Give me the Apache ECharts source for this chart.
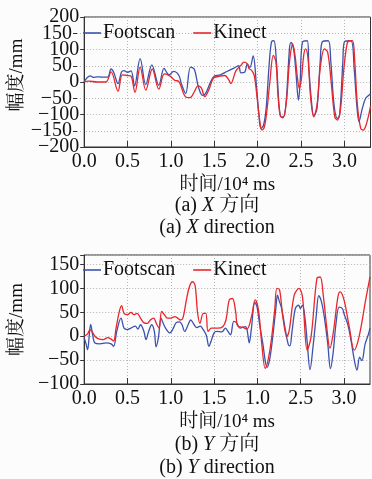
<!DOCTYPE html>
<html><head><meta charset="utf-8">
<script src="https://cdn.jsdelivr.net/npm/echarts@6/dist/echarts.min.js"></script>
<style>html,body{margin:0;padding:0;background:#fcfcfc}#c{width:372px;height:479px}</style>
</head><body><div id="c"></div>
<script>
// ---- data ----
const seriesNames = ['Footscan', 'Kinect'];
const xTicks = [0, 0.5, 1, 1.5, 2, 2.5, 3];
const xTickLabelsA = ['0.0', '0.5', '1.0', '1.5', '2.0', '2.5', '3.0'];
const xTickLabelsB = ['0.0', '0.5', '1.0', '1.5', '1.0', '2.5', '3.0'];
const yTicksA = [-200, -150, -100, -50, 0, 50, 100, 150, 200];
const yTicksB = [-100, -50, 0, 50, 100, 150];

// (a) X direction
const footXT = [0, .03, .07, .105, .15, .2, .27, .31, .34, .39, .43, .46, .5, .54, .58, .645, .71, .78, .86, .92, .955, .98, 1.03, 1.07, 1.1, 1.12, 1.17, 1.225, 1.27, 1.316, 1.365, 1.40, 1.46, 1.50, 1.57, 1.65, 1.72, 1.78, 1.806, 1.85, 1.88, 1.91, 1.948, 1.985, 2.011, 2.037, 2.067, 2.097, 2.134, 2.16, 2.187, 2.216, 2.246, 2.272, 2.299, 2.328, 2.366, 2.384, 2.414, 2.44, 2.47, 2.489, 2.515, 2.571, 2.59, 2.62, 2.646, 2.683, 2.72, 2.746, 2.813, 2.843, 2.88, 2.918, 2.944, 2.981, 3.0, 3.075, 3.112, 3.142, 3.168, 3.205, 3.243, 3.28, 3.3];
const footXV = [0, 12, 19, 14, 16, 15, 15, 40, 30, -5, 31, 35, 30, 34, -12, 72, -8, 53, -10, 42, 28, 22, 33, 28, 15, -5, -36, 46, 39, -15, -41, -35, 2, 18, 22, 33, 42, 50, 28, 30, 55, 45, 80, -10, -92, -143, -133, -82, 61, 124, 127, 61, -71, -107, -107, -61, 102, 122, 100, 31, -56, 0, 122, 127, 41, -61, -104, -82, 61, 124, 127, 61, -71, -112, -102, 61, 124, 127, 41, -71, -122, -82, -51, -41, -36];
const kinXT = [0, .05, .15, .25, .31, .39, .44, .5, .54, .585, .645, .71, .785, .86, .925, .99, 1.045, 1.09, 1.17, 1.22, 1.27, 1.31, 1.35, 1.39, 1.44, 1.49, 1.55, 1.62, 1.67, 1.69, 1.75, 1.806, 1.84, 1.88, 1.9, 1.93, 1.96, 1.99, 2.02, 2.048, 2.075, 2.104, 2.14, 2.18, 2.21, 2.234, 2.26, 2.29, 2.33, 2.366, 2.403, 2.43, 2.455, 2.48, 2.504, 2.53, 2.552, 2.58, 2.608, 2.646, 2.683, 2.72, 2.769, 2.806, 2.843, 2.888, 2.918, 2.955, 2.993, 3.03, 3.056, 3.093, 3.119, 3.149, 3.187, 3.216, 3.254, 3.3];
const kinXV = [0, 3, 0, 0, 31, -28, 22, 20, 18, -32, 46, -25, 40, -22, 25, 18, 5, 2, -46, -48, -30, -12, -18, -45, -22, 12, 17, 20, 5, -5, 35, 51, 61, 56, 41, 36, 20, -41, -112, -148, -140, -92, 0, 82, 62, -41, -104, -110, -61, 61, 117, 82, 20, -20, 10, 82, 102, 72, -41, -107, -72, 41, 102, 92, 10, -107, -117, -82, 41, 117, 127, 127, 61, -71, -143, -148, -128, -75];

// (b) Y direction
const footYT = [0, .02, .04, .06, .075, .1, .124, .18, .256, .31, .34, .376, .425, .46, .5, .54, .59, .62, .65, .69, .714, .744, .78, .81, .83, .857, .887, .91, .95, .99, 1.03, 1.06, 1.1, 1.13, 1.16, 1.2, 1.23, 1.27, 1.3, 1.34, 1.37, 1.41, 1.44, 1.466, 1.5, 1.53, 1.59, 1.63, 1.66, 1.69, 1.727, 1.76, 1.8, 1.86, 1.88, 1.906, 1.93, 1.97, 1.995, 2.026, 2.064, 2.09, 2.11, 2.14, 2.176, 2.213, 2.232, 2.25, 2.28, 2.326, 2.356, 2.375, 2.4, 2.438, 2.476, 2.495, 2.52, 2.55, 2.577, 2.607, 2.645, 2.68, 2.708, 2.74, 2.775, 2.813, 2.843, 2.873, 2.906, 2.944, 2.98, 3.006, 3.045, 3.082, 3.12, 3.15, 3.18, 3.206, 3.243, 3.28, 3.3];
const footYV = [-3, -15, -28, 5, 25, 0, -14, -16, -14, -16, -21, 10, 38, 17, 14, 17, 21, 15, 24, 10, -7, 10, 24, 10, -22, -3, 38, 28, 14, 7, 17, 28, 30, 24, 10, 24, 34, 24, 18, 21, 15, 2, -21, -10, 7, 10, 9, 17, 10, 3, 31, 28, 17, 20, 14, -14, 15, 71, 62, 24, -17, -51, -65, -50, -3, 58, 86, 75, 58, 10, -17, -20, 10, 58, 65, 58, 65, 37, -17, -70, -17, 44, 85, 72, 37, -17, -68, -37, 24, 61, 58, 44, 24, -10, -51, -71, -44, -51, -17, 3, 17];
const kinYT = [0, .04, .068, .09, .124, .16, .218, .274, .31, .34, .368, .406, .432, .46, .5, .54, .575, .61, .65, .69, .73, .763, .8, .84, .865, .895, .93, .96, 1.0, 1.045, 1.08, 1.11, 1.14, 1.18, 1.214, 1.25, 1.28, 1.31, 1.337, 1.375, 1.405, 1.43, 1.468, 1.543, 1.6, 1.637, 1.675, 1.712, 1.75, 1.77, 1.825, 1.88, 1.93, 1.975, 2.012, 2.05, 2.09, 2.144, 2.2, 2.225, 2.256, 2.293, 2.34, 2.368, 2.425, 2.48, 2.52, 2.575, 2.62, 2.687, 2.725, 2.762, 2.8, 2.837, 2.875, 2.93, 2.956, 3.0, 3.06, 3.118, 3.174, 3.25, 3.3];
const kinYV = [0, 5, 14, 10, 0, -5, -7, -3, -6, -10, 17, 52, 64, 48, 45, 50, 45, 48, 38, 28, 27, 34, 38, 24, 17, 52, 44, 38, 38, 41, 38, 34, 38, 76, 103, 114, 107, 48, 27, 48, 48, 10, 17, 17, 20, 34, 76, 79, 50, 22, 19, 15, 40, 76, 55, -15, -67, -29, 55, 100, 97, 41, -1, 13, 86, 100, 83, -29, -1, 121, 124, 83, 20, -25, 6, 83, 93, 76, 20, -29, -1, 76, 124];

// ---- chart ----
const SERIF = "'Liberation Serif','Noto Serif CJK SC','Noto Sans CJK SC',serif";
const BLUE = '#3c52ad', RED = '#e8262b', AX = '#333';
const pairs = (t, v) => t.map((x, i) => [x, v[i]]);
const minus = v => String(v).replace('-', '\u2212');

// top plot: 17..147 px  (-200..200); helper grid carries the odd 50s (-150..150)
const TOP_Y = 17, TOP_H = 130, STEP = TOP_H / 8;

function xAxisCfg(gi, labels) {
  return {
    type: 'value', gridIndex: gi, min: 0, max: 3.3, interval: 0.5,
    axisLine: { show: true, onZero: false, lineStyle: { color: AX, width: 1 } },
    axisTick: { show: true, inside: true, length: 6, customValues: xTicks, lineStyle: { color: AX } },
    axisLabel: {
      customValues: xTicks, margin: 5, fontSize: 20, color: '#111', fontFamily: SERIF,
      showMinLabel: true, showMaxLabel: true,
      formatter: v => { const i = Math.round(v / 0.5); return Math.abs(v - i * 0.5) < 1e-6 && i < labels.length ? labels[i] : ''; }
    },
    splitLine: { show: true, lineStyle: { type: [1, 2], color: '#b5b5b5', width: 1 } },
    name: '时间/10⁴ ms', nameLocation: 'middle', nameGap: 29,
    nameTextStyle: { fontSize: 19, color: '#111', fontFamily: SERIF }
  };
}
function yAxisCfg(gi, ticks, min, max, interval, pad, withName, withLine) {
  const ax = {
    type: 'value', gridIndex: gi, min: min, max: max, interval: interval,
    axisLine: { show: withLine, onZero: false, lineStyle: { color: AX, width: 1 } },
    axisTick: { show: true, inside: false, length: 4, lineStyle: { color: AX } },
    axisLabel: {
      margin: 5, fontSize: 20, color: '#111', fontFamily: SERIF,
      showMinLabel: true, showMaxLabel: true,
      formatter: v => ticks.indexOf(v) >= 0 ? minus(v) : ''
    },
    splitLine: { show: true, lineStyle: { type: [1, 2], color: '#b5b5b5', width: 1 } }
  };
  if (withName) {
    ax.name = '幅度/mm'; ax.nameLocation = 'middle'; ax.nameGap = 52;
    ax.nameTextStyle = { fontSize: 19, color: '#111', fontFamily: SERIF, padding: pad };
  }
  return ax;
}
function legendCfg(top) {
  return {
    data: seriesNames.map(n => ({ name: n, icon: 'rect' })), left: 83, top: top, padding: 0,
    itemWidth: 18, itemHeight: 1.6, itemGap: 18,
    textStyle: { fontSize: 20, color: '#111', fontFamily: SERIF, padding: [0, 0, 0, -3] },
    selectedMode: false
  };
}
function lineSeries(name, color, xi, data) {
  return {
    type: 'line', name: name, xAxisIndex: xi, yAxisIndex: xi, data: data,
    symbol: 'none', smooth: 0.35, lineStyle: { color: color, width: 1.3 }, itemStyle: { color: color },
    animation: false
  };
}
function caption(y, pre, letter, post) {
  return {
    type: 'text', x: 217, y: y,
    style: {
      text: '{n|' + pre + '}{i|' + letter + '}{n|' + post + '}',
      align: 'center', verticalAlign: 'middle', fontSize: 20, fontFamily: SERIF, fill: '#111',
      rich: {
        n: { fontSize: 20, fontFamily: SERIF, fill: '#111', color: '#111' },
        i: { fontSize: 20, fontFamily: SERIF, fontStyle: 'italic', fill: '#111', color: '#111' }
      }
    }
  };
}

const chart = echarts.init(document.getElementById('c'), null, { renderer: 'canvas' });
chart.setOption({
  backgroundColor: '#fcfcfc',
  animation: false,
  grid: [
    { left: 77, right: 1.5, top: TOP_Y, height: TOP_H, show: true, borderColor: AX, borderWidth: 1, backgroundColor: 'transparent' },
    { left: 77, right: 2, top: 255, height: 129, show: true, borderColor: AX, borderWidth: 1, backgroundColor: 'transparent' },
    { left: 77, right: 1.5, top: TOP_Y + STEP, height: TOP_H - 2 * STEP, show: false }
  ],
  xAxis: [xAxisCfg(0, xTickLabelsA), xAxisCfg(1, xTickLabelsB),
    { type: 'value', gridIndex: 2, min: 0, max: 3.3, show: false }],
  yAxis: [
    yAxisCfg(0, yTicksA, -200, 200, 100, [0, 0, 0, 14], true, true),
    yAxisCfg(1, yTicksB, -100, 170, 50, [0, 0, 0, 0], true, true),
    yAxisCfg(2, yTicksA, -150, 150, 100, null, false, false)
  ],
  legend: [legendCfg(23), legendCfg(260)],
  series: [
    lineSeries('Footscan', BLUE, 0, pairs(footXT, footXV)),
    lineSeries('Kinect', RED, 0, pairs(kinXT, kinXV)),
    lineSeries('Footscan', BLUE, 1, pairs(footYT, footYV)),
    lineSeries('Kinect', RED, 1, pairs(kinYT, kinYV))
  ],
  graphic: [
    caption(206, '(a) ', 'X', ' 方向'),
    caption(228, '(a) ', 'X', ' direction'),
    caption(445, '(b) ', 'Y', ' 方向'),
    caption(468, '(b) ', 'Y', ' direction')
  ]
});
</script></body></html>
